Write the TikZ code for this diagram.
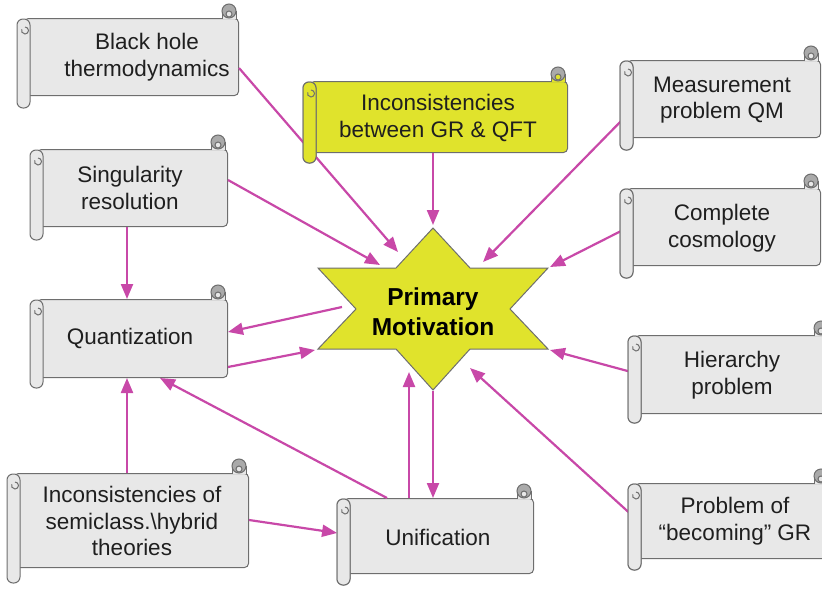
\documentclass[tikz,border=0pt]{standalone}
\usepackage{fontspec}
\setmainfont{Liberation Sans}
\usetikzlibrary{arrows.meta,calc}
\definecolor{boxfill}{RGB}{232,232,232}
\definecolor{boxline}{RGB}{110,110,110}
\definecolor{curlfill}{RGB}{170,170,170}
\definecolor{yel}{RGB}{224,227,44}
\definecolor{pink}{RGB}{200,72,168}
\tikzset{
  body/.style={draw=boxline, line width=1pt, rounded corners=4pt, inner sep=0pt},
  scrollline/.style={draw=boxline, line width=1pt},
  txt/.style={font=\fontsize{22.5}{26.5}\selectfont, align=center, text=black!88, inner sep=0pt},
  arr/.style={draw=pink, line width=2.2pt, -{Triangle[length=15pt,width=12pt]}},
}
\newcommand{\scrollbox}[7]{%
  % #1 name, #2 L, #3 T, #4 R, #5 B, #6 roll bottom, #7 fill
  \node[body, fill=#7, anchor=north west, minimum width={#4-#2-7}, minimum height={#5-#3}] (#1) at (#2+7,#3) {};
  \draw[scrollline, fill=#7] (#4-16,#3+1) -- (#4-16,#3-7) -- (#4-2,#3-7) -- (#4-2,#3+1);
  \draw[scrollline, fill=curlfill] (#4-9,#3-7) circle (7);
  \draw[scrollline, fill=#7] (#4-9,#3-4) circle (3);
  \draw[scrollline, fill=#7, rounded corners=6pt] (#2,#3+1) rectangle (#2+13,#6);
  \draw[scrollline] (#2+8,#3+9) arc (-90:200:3.5);
}
\begin{document}
\begin{tikzpicture}[x=1pt,y=-1pt]
\useasboundingbox (0,0) rectangle (822,589);

% star
\path[draw=boxline, line width=1pt, fill=yel]
  (433,228) -- (470,268) -- (548,268) -- (510,309) -- (548,349) -- (470,349)
  -- (433,390) -- (396,349) -- (318,349) -- (356,309) -- (318,268) -- (396,268) -- cycle;
\node[font=\fontsize{24.5}{30}\selectfont\bfseries, align=center, inner sep=0pt] (star) at (433,312) {Primary\\Motivation};

% tip coordinates on the star
\coordinate (tBH) at (398,252);
\coordinate (tGR) at (433,225);
\coordinate (tMQ) at (483,262);
\coordinate (tSR) at (380,265);
\coordinate (tCC) at (550,267);
\coordinate (oQU) at (342,307);
\coordinate (tQU) at (315,350);
\coordinate (tHP) at (550,350);
\coordinate (tPB) at (470,368);
\coordinate (tUN) at (409,372);
\coordinate (oUN) at (433,391);

% scroll boxes
\scrollbox{bh}{17}{18}{238}{95}{108}{boxfill}
\scrollbox{gr}{303}{81}{567}{152}{163}{yel}
\scrollbox{mq}{620}{60}{820}{137}{150}{boxfill}
\scrollbox{sr}{30}{149}{227}{226}{240}{boxfill}
\scrollbox{cc}{620}{188}{820}{265}{278}{boxfill}
\scrollbox{qu}{30}{299}{227}{377}{388}{boxfill}
\scrollbox{hp}{628}{335}{830}{413}{423}{boxfill}
\scrollbox{sc}{7}{473}{248}{567}{583}{boxfill}
\scrollbox{un}{337}{498}{533}{573}{585}{boxfill}
\scrollbox{pb}{628}{483}{830}{558}{570}{boxfill}

% arrows
\draw[arr] (bh.east |- 0,68) -- (tBH);
\draw[arr] (gr.south -| 433,0) -- (tGR);
\draw[arr, shorten <=7pt] (mq.west |- 0,115) -- (tMQ);
\draw[arr] (sr.east |- 0,180) -- (tSR);
\draw[arr] (sr.south -| 127,0) -- (qu.north -| 127,0);
\draw[arr, shorten <=7pt] (cc.west |- 0,228) -- (tCC);
\draw[arr] (oQU) -- (qu.east |- 0,332);
\draw[arr] (qu.east |- 0,367) -- (tQU);
\draw[arr, shorten <=7pt] (hp.west |- 0,373) -- (tHP);
\draw[arr, shorten <=7pt] (pb.west |- 0,518) -- (tPB);
\draw[arr] (sc.north -| 127,0) -- (qu.south -| 127,0);
\draw[arr, shorten >=7pt] (sc.east |- 0,520) -- (un.west |- 0,534);
\draw[arr] (un.north -| 387,0) -- (qu.south -| 160,0);
\draw[arr] (un.north -| 409,0) -- (tUN);
\draw[arr] (oUN) -- (un.north -| 433,0);

% redraw left rolls over arrow tails
\foreach \L/\T/\RB/\F in {303/81/163/yel, 620/60/150/boxfill, 620/188/278/boxfill, 628/335/423/boxfill, 628/483/570/boxfill, 337/498/585/boxfill}{
  \draw[scrollline, fill=\F, rounded corners=6pt] (\L,\T+1) rectangle (\L+13,\RB);
  \draw[scrollline] (\L+8,\T+9) arc (-90:200:3.5);
}

% texts
\node[txt] (bh-t) at (147,57) {Black hole\\thermodynamics};
\node[txt] (gr-t) at (438,118) {Inconsistencies\\between GR \& QFT};
\node[txt] (mq-t) at (722,100) {Measurement\\problem QM};
\node[txt] (sr-t) at (130,188) {Singularity\\resolution};
\node[txt] (cc-t) at (722,228) {Complete\\cosmology};
\node[txt] (qu-t) at (130,338) {Quantization};
\node[txt] (hp-t) at (732,375) {Hierarchy\\problem};
\node[txt] (sc-t) at (132,521) {Inconsistencies of\\semiclass.\textbackslash hybrid\\theories};
\node[txt] (un-t) at (438,537) {Unification};
\node[txt] (pb-t) at (735,521) {Problem of\\“becoming” GR};
\end{tikzpicture}
\end{document}
